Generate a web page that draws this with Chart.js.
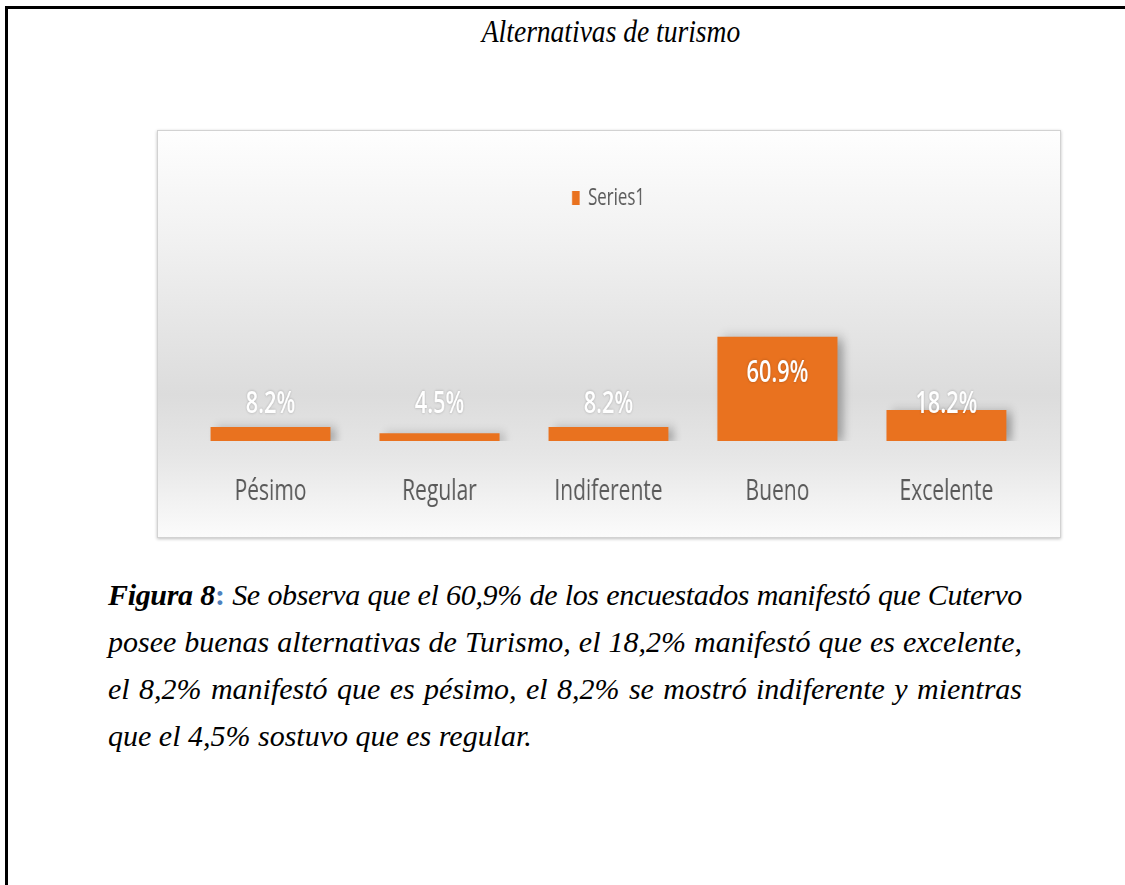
<!DOCTYPE html>
<html>
<head>
<meta charset="utf-8">
<script src="https://cdn.jsdelivr.net/npm/chart.js@4.4.1/dist/chart.umd.min.js"></script>
<style>
body{margin:0;width:1125px;height:885px;background:#fff;position:relative;overflow:hidden;font-family:"Liberation Serif","Times New Roman",serif;}
.frame{position:absolute;left:5px;top:6px;width:1130px;height:900px;border-top:3px solid #000;border-left:3px solid #000;}
.title{position:absolute;left:361px;top:15px;width:500px;text-align:center;font-style:italic;font-size:32px;line-height:32px;color:#000;transform:scaleX(0.86);}
.box{position:absolute;left:157px;top:130px;width:902px;height:406px;border:1px solid #d2d2d2;box-shadow:0 1px 3px rgba(0,0,0,0.25);
  background:linear-gradient(to bottom,#fefefe 0%,#f2f2f2 25%,#dcdcdc 65%,#e6e6e6 80%,#fbfbfb 100%);overflow:hidden;}
.stretch{position:absolute;left:0;top:0;width:1289px;height:406px;transform:scaleX(0.7);transform-origin:0 0;}
.cap{position:absolute;left:108px;top:571px;width:914px;font-size:30px;line-height:47px;font-style:italic;color:#000;}
.cap div{text-align:justify;text-align-last:justify;white-space:nowrap;}
.cap div.first{letter-spacing:-0.35px;word-spacing:-1px;}
.cap div.last{text-align:left;text-align-last:left;}
.cap b{font-weight:bold;}
.cap .colon{color:#4f81bd;font-weight:bold;font-style:normal;}
</style>
</head>
<body>
<div class="frame"></div>
<div class="title">Alternativas de turismo</div>
<div class="box"><div class="stretch"><canvas id="chart"></canvas></div></div>
<div class="cap">
  <div class="first"><b>Figura 8</b><span class="colon">:</span> Se observa que el 60,9% de los encuestados manifestó que Cutervo</div>
  <div>posee buenas alternativas de Turismo, el 18,2% manifestó que es excelente,</div>
  <div>el 8,2% manifestó que es pésimo, el 8,2% se mostró indiferente y mientras</div>
  <div class="last">que el 4,5% sostuvo que es regular.</div>
</div>
<script>
//data
const categories = ["Pésimo", "Regular", "Indiferente", "Bueno", "Excelente"];
const percentages = [8.2, 4.5, 8.2, 60.9, 18.2];
const seriesName = "Series1";

//extra room under the legend
const legendGap = {
    id: "legendGap",
    beforeInit(chart) {
        const fit = chart.legend.fit;
        chart.legend.fit = function () {
            fit.call(this);
            this.height += 50;
        };
    }
};

//soft shadow behind the bars
const barShadow = {
    id: "barShadow",
    beforeDatasetDraw(chart) {
        const c = chart.ctx;
        c.save();
        c.shadowColor = "rgba(0,0,0,0.3)";
        c.shadowBlur = 12;
        c.shadowOffsetX = 8;
        c.shadowOffsetY = 2;
    },
    afterDatasetDraw(chart) {
        chart.ctx.restore();
    }
};

//percent labels
const valueLabels = {
    id: "valueLabels",
    afterDatasetsDraw(chart) {
        const c = chart.ctx;
        const meta = chart.getDatasetMeta(0);
        c.save();
        c.font = "600 31px 'Open Sans'";
        c.fillStyle = "#ffffff";
        c.textAlign = "center";
        c.textBaseline = "middle";
        c.shadowColor = "rgba(0,0,0,0.25)";
        c.shadowBlur = 3;
        meta.data.forEach((bar, i) => {
            const y = Math.min(bar.base - 37, bar.y + 36);
            c.fillText(percentages[i].toFixed(1) + "%", bar.x, y);
        });
        c.restore();
    }
};

new Chart(document.getElementById("chart"), {
    type: "bar",
    data: {
        labels: categories,
        datasets: [{
            label: seriesName,
            data: percentages,
            backgroundColor: "#E9721F",
            borderWidth: 0,
            categoryPercentage: 1,
            barPercentage: 0.71
        }]
    },
    options: {
        responsive: true,
        maintainAspectRatio: false,
        animation: false,
        layout: {padding: {top: 45, left: 40, right: 42, bottom: -4}},
        scales: {
            x: {
                grid: {display: false, drawTicks: false},
                border: {display: false},
                ticks: {color: "#595959", font: {family: "Open Sans", size: 30}, padding: 32}
            },
            y: {display: false, min: 0, max: 100}
        },
        plugins: {
            legend: {
                position: "top",
                labels: {boxWidth: 11, boxHeight: 14, color: "#595959", font: {family: "Open Sans", size: 24}, padding: 10}
            },
            tooltip: {enabled: false}
        }
    },
    plugins: [legendGap, barShadow, valueLabels]
});
</script>
</body>
</html>
